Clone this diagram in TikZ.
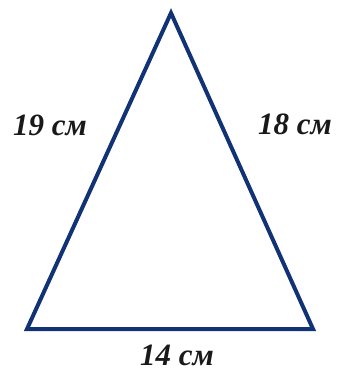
\documentclass[tikz,border=0pt]{standalone}
\usepackage{fontspec}
\setmainfont{Liberation Serif}[BoldItalicFont={Liberation Serif Bold Italic}]
\definecolor{tri}{RGB}{18,50,118}
\tikzset{lbl/.style={font=\bfseries\itshape\fontsize{31}{34}\selectfont, inner sep=0pt, text=black!90}}
\begin{document}
\begin{tikzpicture}[x=1pt,y=-1pt]
\useasboundingbox (0,0) rectangle (339,373);
\coordinate (A) at (171,13);
\coordinate (B) at (27,329);
\coordinate (C) at (313,329);
\draw[tri, line width=4pt, line join=miter] (A) -- (B) -- (C) -- cycle;
\node[lbl] (l1) at (50,125) {19 см};
\node[lbl] (l2) at (295,124) {18 см};
\node[lbl] (l3) at (177,355) {14 см};
\end{tikzpicture}
\end{document}
